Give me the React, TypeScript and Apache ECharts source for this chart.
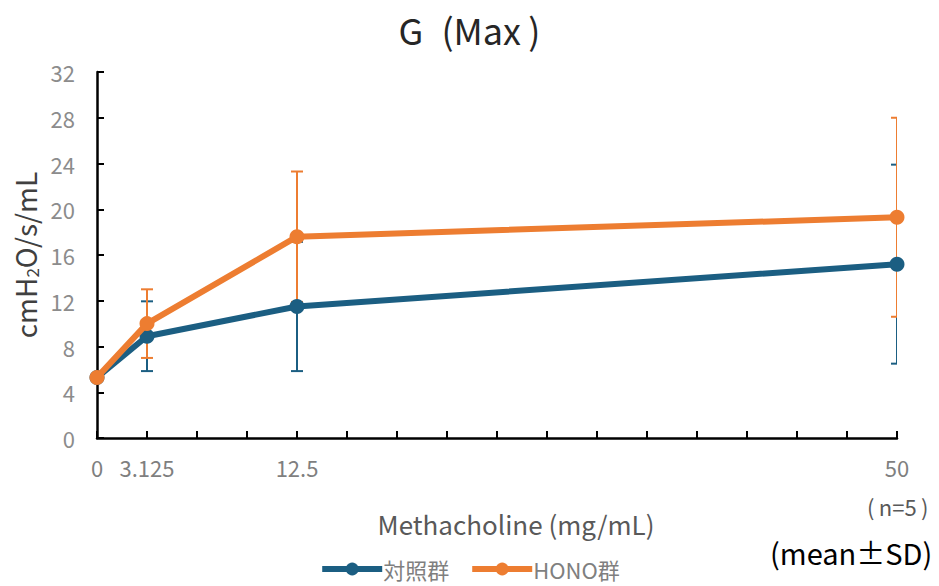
import React, { useEffect, useRef } from "react";
import * as echarts from "echarts";

const doses = [0, 3.125, 12.5, 50];
const controlMean = [5.3, 8.9, 11.5, 15.2];
const controlSD = [0.2, 3.05, 5.65, 8.7];
const honoMean = [5.3, 10.0, 17.6, 19.3];
const honoSD = [0.2, 3.0, 5.7, 8.7];
const tickLabels = ["0", "3.125", "12.5", "50"];
const seriesNames = ["対照群", "HONO群"];
const colors = ["#1B5E82", "#ED7D31"];

const FONT = "'Noto Sans CJK JP', 'Noto Sans', sans-serif";

function errData(mean: number[], sd: number[]) {
  return doses.map((d, i) => [d, mean[i] - sd[i], mean[i] + sd[i]]);
}

function errSeries(name: string, color: string, mean: number[], sd: number[], z: number) {
  return {
    type: "custom",
    name: name + "_err",
    z,
    clip: true,
    silent: true,
    data: errData(mean, sd),
    encode: { x: 0, y: [1, 2] },
    renderItem: (params: any, api: any) => {
      const x = api.value(0);
      const lo = api.coord([x, api.value(1)]);
      const hi = api.coord([x, api.value(2)]);
      const hw = 6;
      const style = { stroke: color, lineWidth: 2 };
      return {
        type: "group",
        children: [
          { type: "line", shape: { x1: lo[0], y1: lo[1], x2: hi[0], y2: hi[1] }, style },
          { type: "line", shape: { x1: hi[0] - hw, y1: hi[1], x2: hi[0] + hw, y2: hi[1] }, style },
          { type: "line", shape: { x1: lo[0] - hw, y1: lo[1], x2: lo[0] + hw, y2: lo[1] }, style },
        ],
      };
    },
  };
}

export default function App() {
  const ref = useRef<HTMLDivElement>(null);
  useEffect(() => {
    document.body.style.margin = "0";
    const chart = echarts.init(ref.current!, null, { renderer: "svg" });
    chart.setOption({
      animation: false,
      textStyle: { fontFamily: FONT },
      title: {
        text: "G\u2002(Max\u2009)",
        left: "center",
        top: 6,
        textStyle: { fontSize: 36, fontWeight: "normal", color: "#262626", fontFamily: FONT },
      },
      grid: { left: 97, right: 42, top: 72, bottom: 148 },
      legend: {
        data: seriesNames,
        top: 556,
        left: "center",
        padding: 0,
        itemWidth: 60,
        itemHeight: 16,
        itemGap: 20,
        lineStyle: { width: 6 },
        textStyle: { fontSize: 22, lineHeight: 26, color: "#7f7f7f", fontFamily: FONT, padding: [0, 0, 0, -4] },
      },
      xAxis: {
        type: "value",
        min: 0,
        max: 50,
        interval: 3.125,
        name: "Methacholine (mg/mL)",
        nameLocation: "middle",
        nameGap: 72,
        nameTextStyle: { fontSize: 26, color: "#595959", fontFamily: FONT, padding: [0, 0, 0, 38] },
        axisLine: { lineStyle: { color: "#000", width: 2.5 } },
        axisTick: { inside: true, length: 7, lineStyle: { color: "#000", width: 2 } },
        splitLine: { show: false },
        axisLabel: {
          fontSize: 22,
          color: "#7f7f7f",
          margin: 18,
          fontFamily: FONT,
          showMaxLabel: true,
          formatter: (v: number) => {
            const idx = doses.findIndex((d) => Math.abs(d - v) < 1e-6);
            return idx >= 0 ? tickLabels[idx] : "";
          },
        },
      },
      yAxis: {
        type: "value",
        min: 0,
        max: 32,
        interval: 4,
        name: "cmH{sub|2}O/s/mL",
        nameLocation: "middle",
        nameGap: 50,
        nameTextStyle: {
          fontSize: 28,
          color: "#404040",
          fontFamily: FONT,
          rich: { sub: { fontSize: 17, verticalAlign: "bottom", color: "#404040", padding: [13, 0, 0, 0] } },
        },
        axisLine: { show: true, lineStyle: { color: "#000", width: 2.5 } },
        axisTick: { show: true, inside: true, length: 7, lineStyle: { color: "#000", width: 2 } },
        splitLine: { show: false },
        axisLabel: { fontSize: 22, color: "#8c8c8c", margin: 22, fontFamily: FONT },
      },
      graphic: [
        {
          type: "text",
          left: 867,
          top: 495,
          style: { text: "(\u2009n=5\u2009)", fontSize: 22, fill: "#595959", fontFamily: FONT },
        },
        {
          type: "text",
          left: 770,
          top: 537,
          style: { text: "(mean±SD)", fontSize: 29, fill: "#000", fontFamily: FONT },
        },
      ],
      series: [
        errSeries(seriesNames[0], colors[0], controlMean, controlSD, 1),
        errSeries(seriesNames[1], colors[1], honoMean, honoSD, 2),
        {
          type: "line",
          name: seriesNames[0],
          data: doses.map((d, i) => [d, controlMean[i]]),
          color: colors[0],
          lineStyle: { width: 6, color: colors[0] },
          symbol: "circle",
          symbolSize: 15,
          itemStyle: { color: colors[0] },
          z: 3,
          clip: false,
        },
        {
          type: "line",
          name: seriesNames[1],
          data: doses.map((d, i) => [d, honoMean[i]]),
          color: colors[1],
          lineStyle: { width: 6, color: colors[1] },
          symbol: "circle",
          symbolSize: 15,
          itemStyle: { color: colors[1] },
          z: 4,
          clip: false,
        },
      ],
    });
    return () => chart.dispose();
  }, []);
  return <div ref={ref} style={{ position: "absolute", left: 0, top: 0, width: 939, height: 586 }} />;
}
